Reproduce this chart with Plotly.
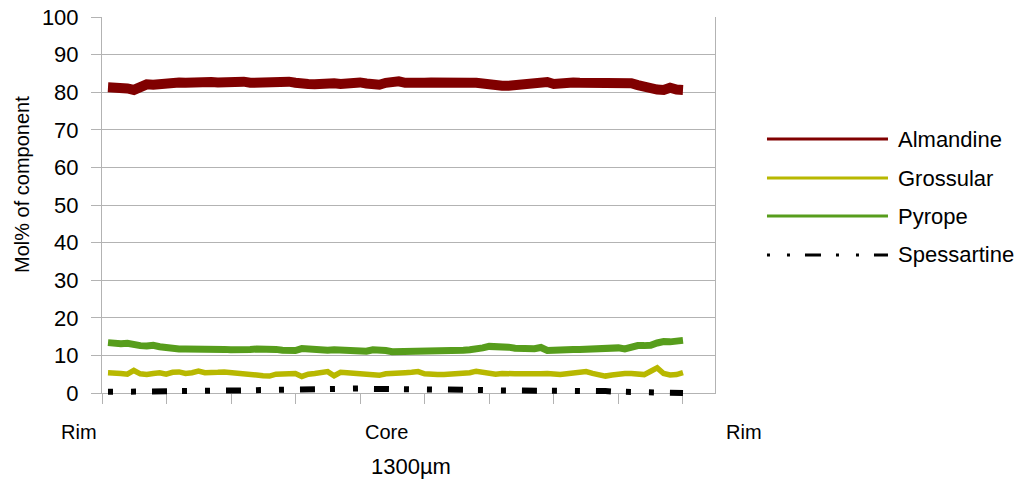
import plotly.graph_objects as go

# ---------------- data ----------------
almandine = [81.3, 81.3, 81.2, 81.0, 80.6, 81.6, 82.1, 82.0, 82.3, 82.3,
             82.7, 82.6, 82.5, 82.7, 82.4, 82.5, 82.7, 82.6, 82.8, 82.9,
             82.6, 82.8, 82.5, 82.6, 82.3, 82.5, 82.6, 83.0, 82.8, 82.5,
             82.6, 82.2, 82.1, 82.4, 82.2, 82.4, 82.2, 82.5, 82.6, 82.6,
             82.3, 82.0, 82.0, 82.5, 82.8, 82.9, 82.5, 82.3, 82.2, 82.5,
             82.6, 82.5, 82.4, 82.3, 82.1, 82.3, 82.5, 82.5, 82.3, 81.8,
             81.4, 81.7, 81.7, 81.9, 81.8, 82.2, 82.5, 82.3, 82.7, 82.2,
             82.5, 82.7, 82.6, 82.5, 82.5, 82.5, 82.4, 82.4, 82.3, 82.6,
             82.8, 82.4, 81.9, 81.4, 81.1, 80.7, 80.6, 81.2, 80.7, 80.6]

grossular = [5.4, 5.4, 5.2, 5.0, 6.0, 5.1, 4.9, 5.2, 5.4, 5.0,
             5.5, 5.6, 5.2, 5.4, 5.8, 5.4, 5.3, 5.5, 5.6, 5.5,
             5.4, 5.3, 5.1, 4.8, 4.6, 4.5, 5.0, 5.1, 5.0, 5.2,
             4.4, 5.0, 5.2, 5.3, 5.7, 4.6, 5.5, 5.4, 5.3, 5.1,
             5.1, 4.9, 4.7, 5.1, 5.3, 5.3, 5.4, 5.5, 5.7, 5.1,
             4.9, 4.9, 4.9, 5.0, 5.0, 5.2, 5.4, 5.8, 5.5, 5.1,
             5.0, 5.2, 5.3, 5.1, 5.1, 5.0, 4.9, 5.1, 5.2, 5.0,
             4.9, 5.1, 5.3, 5.5, 5.7, 5.2, 4.9, 4.5, 4.8, 5.1,
             5.2, 5.2, 5.1, 4.9, 5.8, 6.7, 5.2, 4.8, 4.9, 5.4]

pyrope = [13.4, 13.1, 13.1, 13.2, 12.8, 12.6, 12.5, 12.7, 12.3, 12.0,
          11.8, 11.7, 11.7, 11.7, 11.6, 11.8, 12.0, 11.9, 11.6, 11.5,
          11.4, 11.6, 11.6, 11.7, 11.8, 11.7, 11.6, 11.4, 11.3, 11.3,
          11.8, 11.6, 11.4, 11.5, 11.4, 11.5, 11.4, 11.3, 11.4, 11.2,
          11.1, 11.5, 11.6, 11.3, 11.0, 11.0, 11.1, 11.2, 11.2, 11.3,
          11.3, 11.4, 11.4, 11.4, 11.4, 11.4, 11.5, 11.6, 12.0, 12.4,
          12.4, 12.3, 12.2, 11.9, 11.8, 11.7, 11.8, 12.1, 11.3, 11.4,
          11.6, 11.6, 11.6, 11.6, 11.7, 11.8, 11.9, 11.9, 12.0, 12.0,
          11.7, 12.2, 12.6, 12.6, 12.7, 13.3, 13.7, 13.6, 13.7, 14.0]

spessartine = [0.3, 0.3, 0.3, 0.3, 0.3, 0.35, 0.4, 0.4, 0.4, 0.4,
               0.4, 0.45, 0.5, 0.5, 0.5, 0.55, 0.6, 0.6, 0.6, 0.65,
               0.7, 0.7, 0.7, 0.75, 0.8, 0.8, 0.8, 0.8, 0.8, 0.85,
               0.9, 0.9, 0.9, 1.0, 1.0, 1.1, 1.2, 1.3, 1.3, 1.2,
               1.1, 1.1, 1.1, 1.1, 1.1, 1.0, 1.0, 1.0, 1.0, 1.0,
               1.0, 1.1, 1.1, 1.2, 1.1, 1.0, 1.0, 1.0, 0.9, 0.8,
               0.7, 0.7, 0.7, 0.8, 0.8, 0.8, 0.7, 0.7, 0.7, 0.7,
               0.7, 0.6, 0.6, 0.6, 0.5, 0.5, 0.5, 0.5, 0.4, 0.4,
               0.3, 0.3, 0.2, 0.1, 0.1, 0.1, 0.0, 0.0, 0.0, 0.0]

positions = list(range(1, len(almandine) + 1))   # analysis points along the traverse

series_names = ["Almandine", "Grossular", "Pyrope", "Spessartine"]
series_values = [almandine, grossular, pyrope, spessartine]
series_colors = ["#800000", "#b8b800", "#579d1c", "#000000"]
series_widths = [10, 5.5, 7, 6]
series_dash = ["solid", "solid", "solid", "5px,18px,5px,16px,15px,15px"]
legend_dash = ["solid", "solid", "solid", "3px,17px,3px,15px,16px,15px"]

x_labels = ["Rim", "Core", "Rim"]
x_label_pos = [-0.0375, 0.4633, 1.0473]
y_ticks = list(range(0, 101, 10))
x_tick_pos = [0.0713 + 9.991 * k for k in range(10)]
X_RANGE = [0.0713, 94.953]

FONT = "Liberation Sans, Arial, sans-serif"
GRID = "#b3b3b3"

# plot region in pixels: 17..397 tall (380 px); the visible y axis uses the top 376 px
PAD_FRAC = 4 / 380.0

fig = go.Figure()
for name, vals, col, w, d in zip(series_names, series_values, series_colors,
                                  series_widths, series_dash):
    # the dotted Spessartine line sits on the 0 line: draw it on an invisible
    # twin scale that reaches 4 px lower so its dots are not clipped
    axes = dict(xaxis="x2", yaxis="y2") if name == "Spessartine" else {}
    fig.add_trace(go.Scatter(x=positions, y=vals, mode="lines", name=name,
                             line=dict(color=col, width=w, dash=d),
                             showlegend=False, **axes))

# manual legend (long line samples as in the reference)
leg_y = [0.6789, 0.5763, 0.4763, 0.3737]
shapes = []
annotations = []
for name, col, d, yy in zip(series_names, series_colors, legend_dash, leg_y):
    shapes.append(dict(type="line", xref="paper", yref="paper",
                       x0=1.0848, x1=1.2822, y0=yy, y1=yy,
                       line=dict(color=col, width=3, dash=d)))
    annotations.append(dict(text=name, xref="paper", yref="paper",
                            x=1.2953, y=yy, xanchor="left", yanchor="middle",
                            showarrow=False,
                            font=dict(family=FONT, size=22, color="#000000")))

for lab, xp in zip(x_labels, x_label_pos):
    annotations.append(dict(text=lab, xref="paper", yref="paper",
                            x=xp, y=-0.0921, xanchor="center", yanchor="middle",
                            showarrow=False,
                            font=dict(family=FONT, size=20, color="#000000")))

annotations.append(dict(text="1300µm", xref="paper", yref="paper",
                        x=0.5041, y=-0.1842, xanchor="center", yanchor="middle",
                        showarrow=False,
                        font=dict(family=FONT, size=22, color="#000000")))
annotations.append(dict(text="Mol% of component", xref="paper", yref="paper",
                        x=-0.1305, y=0.5579, xanchor="center", yanchor="middle",
                        textangle=-90, showarrow=False,
                        font=dict(family=FONT, size=20, color="#000000")))

fig.update_layout(
    width=1033, height=486,
    margin=dict(l=102, r=318, t=17, b=89, pad=0),
    paper_bgcolor="#ffffff", plot_bgcolor="rgba(0,0,0,0)",
    font=dict(family=FONT, size=21, color="#000000"),
    shapes=shapes, annotations=annotations,
    showlegend=False,
    xaxis=dict(range=X_RANGE, domain=[0, 1], tickmode="array", tickvals=x_tick_pos,
               ticktext=[""] * len(x_tick_pos), ticks="outside", ticklen=10,
               tickcolor=GRID, tickwidth=1, showgrid=False, zeroline=False,
               showline=True, linecolor=GRID, linewidth=1, automargin=False),
    yaxis=dict(range=[0, 100], domain=[PAD_FRAC, 1], tickmode="array",
               tickvals=y_ticks, ticks="outside", ticklen=10, tickcolor=GRID,
               tickwidth=1, ticklabelstandoff=8, ticklabeloverflow="allow",
               showgrid=True, gridcolor=GRID, gridwidth=1, zeroline=False,
               showline=True, linecolor=GRID, linewidth=1, mirror=True,
               automargin=False,
               tickfont=dict(family=FONT, size=22, color="#000000")),
    xaxis2=dict(range=X_RANGE, domain=[0, 1], anchor="y2", visible=False),
    yaxis2=dict(range=[-100 * PAD_FRAC / (1 - PAD_FRAC), 100], domain=[0, 1],
                anchor="x2", visible=False),
)

fig.write_html("out.html", config={"displayModeBar": False},
               post_script="document.body.style.margin='0';")
